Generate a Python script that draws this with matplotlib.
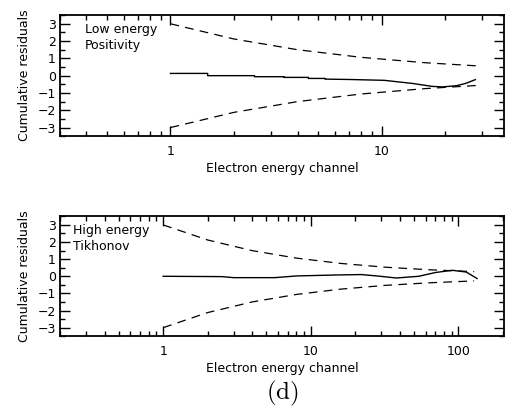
import matplotlib.pyplot as plt
import numpy as np
from matplotlib.ticker import FixedLocator, NullFormatter

plt.rcParams['font.family'] = ['DejaVu Sans']
plt.rcParams['mathtext.fontset'] = 'cm'

# top panel: low energy, positivity
low_n = [1, 1.5, 1.5, 2.5, 2.5, 3.45, 3.45, 4.5, 4.5, 5.4, 5.4, 7, 10.3, 14, 17.4, 19.4, 22.6, 25, 27.8]
low_res = [0.13, 0.13, 0.0, 0.0, -0.06, -0.06, -0.1, -0.1, -0.16, -0.16, -0.2, -0.22, -0.27, -0.45, -0.62, -0.65, -0.58, -0.45, -0.23]
low_env_n = [1, 2, 4, 8, 16, 28]
low_env_up = [3.0, 2.12, 1.5, 1.06, 0.75, 0.57]
low_env_dn = [-3.0, -2.12, -1.5, -1.06, -0.75, -0.57]

# bottom panel: high energy, Tikhonov
high_n = [1, 2.5, 3, 5.7, 8, 15.7, 22, 28, 38, 54, 70, 91, 113, 134]
high_res = [0.0, -0.02, -0.08, -0.08, 0.02, 0.08, 0.1, 0.02, -0.1, 0.0, 0.22, 0.35, 0.25, -0.13]
high_env_n = [1, 2, 4, 8, 16, 32, 64, 128]
high_env_up = [3.0, 2.12, 1.5, 1.06, 0.75, 0.53, 0.38, 0.27]
high_env_dn = [-3.0, -2.12, -1.5, -1.06, -0.75, -0.53, -0.38, -0.27]

yticks = [-3, -2, -1, 0, 1, 2, 3]
ylabels = ['\u22123', '\u22122', '\u22121', '0', '1', '2', '3']

fig = plt.figure(figsize=(5.05, 4.09), dpi=100)
fs = 9


def panel(rect, n, res, en, up, dn, xlim, xmajor, label1, label2, tx):
    ax = fig.add_axes(rect)
    ax.plot(n, res, color='black', lw=1.0)
    ax.plot(en, up, color='black', lw=0.9, dashes=(7, 5))
    ax.plot(en, dn, color='black', lw=0.9, dashes=(7, 5))
    ax.set_xscale('log')
    ax.set_xlim(*xlim)
    ax.set_ylim(-3.5, 3.5)
    ax.xaxis.set_major_locator(FixedLocator(xmajor))
    ax.set_xticklabels([str(v) for v in xmajor])
    minors = [m * 10.0 ** k for k in range(-1, 3) for m in range(2, 10)]
    ax.xaxis.set_minor_locator(FixedLocator(minors))
    ax.xaxis.set_minor_formatter(NullFormatter())
    ax.set_yticks(yticks)
    ax.set_yticklabels(ylabels)
    ax.yaxis.set_minor_locator(FixedLocator(np.arange(-3.5, 3.6, 0.5)))
    ax.tick_params(which='both', direction='in', top=True, right=True, labelsize=fs, width=1.0)
    ax.tick_params(which='major', length=7)
    ax.tick_params(which='minor', length=3.5)
    ax.tick_params(axis='x', pad=6)
    ax.tick_params(axis='y', pad=3)
    for s in ax.spines.values():
        s.set_linewidth(1.3)
    ax.set_ylabel('Cumulative residuals', fontsize=fs, labelpad=5)
    ax.set_xlabel('Electron energy channel', fontsize=fs, labelpad=3)
    ax.text(tx, 0.88, label1, transform=ax.transAxes, fontsize=fs, va='center')
    ax.text(tx, 0.75, label2, transform=ax.transAxes, fontsize=fs, va='center')
    return ax


panel([0.119, 0.667, 0.879, 0.296], low_n, low_res, low_env_n, low_env_up, low_env_dn,
      (0.3, 38), [1, 10], 'Low energy', 'Positivity', 0.055)
panel([0.119, 0.178, 0.879, 0.293], high_n, high_res, high_env_n, high_env_up, high_env_dn,
      (0.2, 204), [1, 10, 100], 'High energy', 'Tikhonov', 0.03)

fig.text(0.56, 0.038, r'$\mathrm{(d)}$', fontsize=18, ha='center', va='center')

fig.savefig('out.png', dpi=100)
